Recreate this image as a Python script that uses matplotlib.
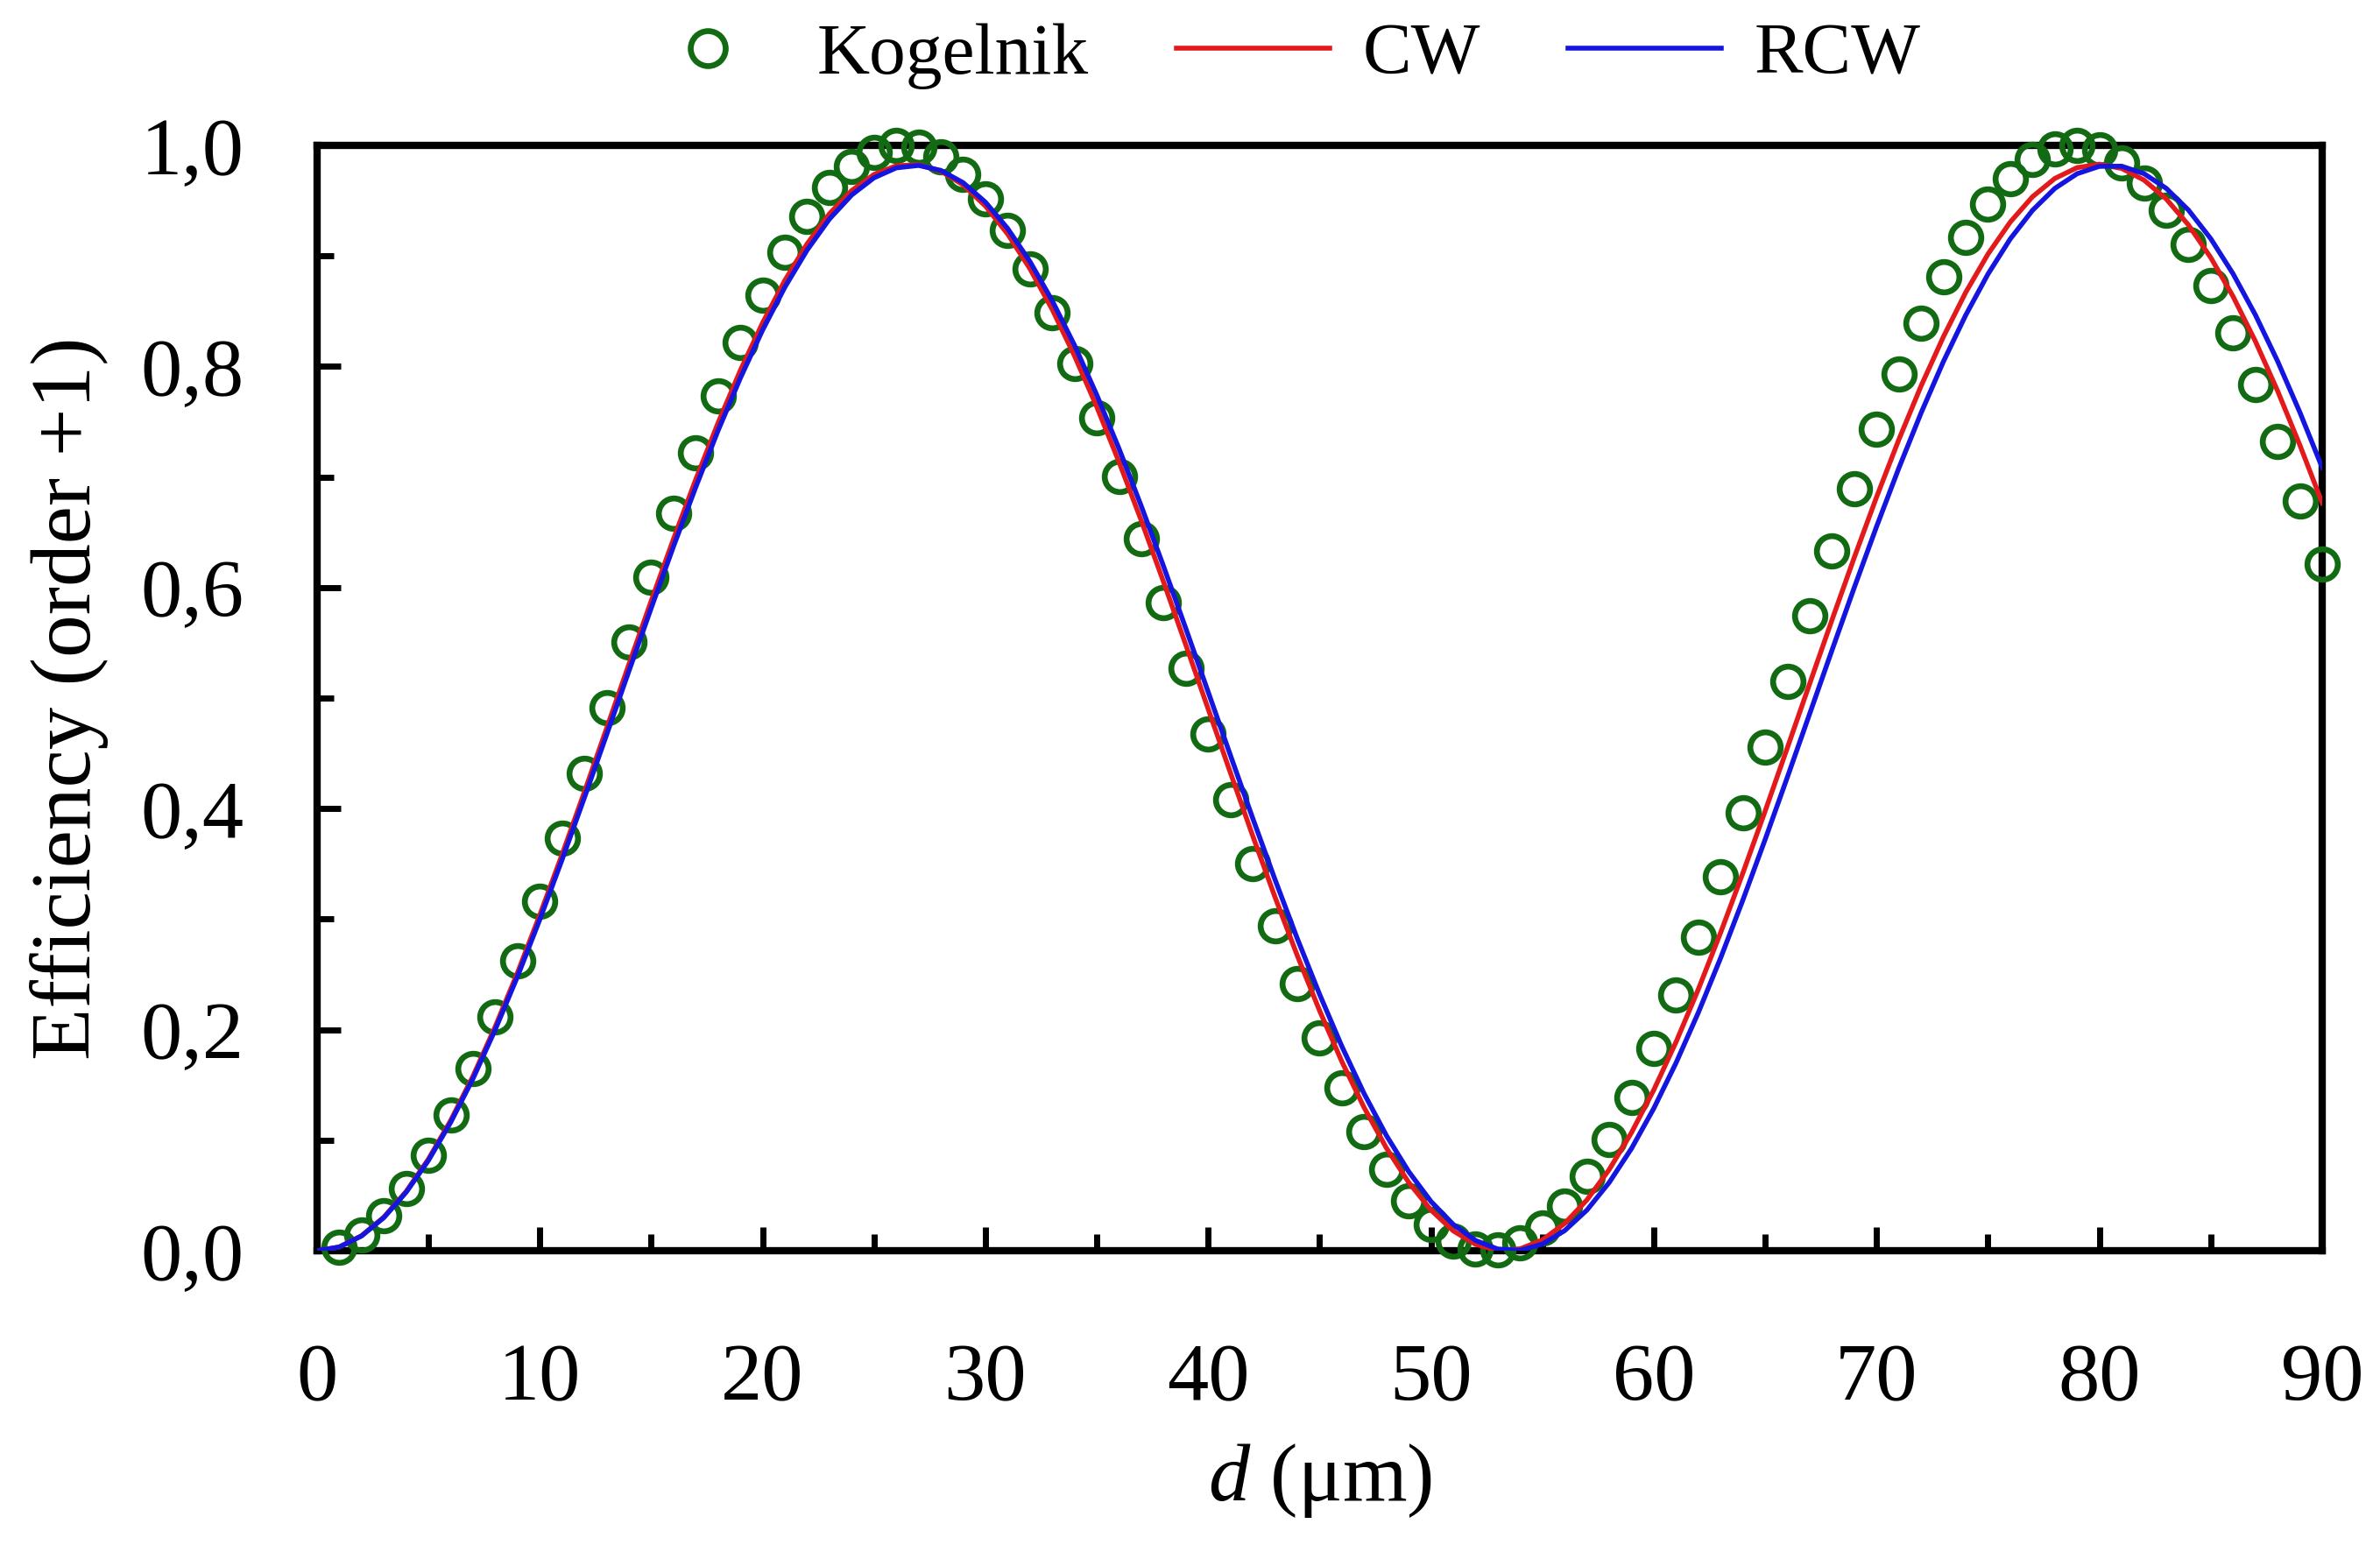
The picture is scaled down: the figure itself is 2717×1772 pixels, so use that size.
import numpy as np
import matplotlib
matplotlib.use("Agg")
import matplotlib.pyplot as plt

plt.rcParams['font.family'] = ['Liberation Serif', 'DejaVu Serif']
plt.rcParams['mathtext.fontset'] = 'custom'
plt.rcParams['mathtext.it'] = 'Liberation Serif:italic'
plt.rcParams['mathtext.rm'] = 'Liberation Serif'

# Kogelnik points, one every micron from 1 to 90
d_kog = np.arange(1, 91)
eff_kog = [
    0.0036, 0.0142, 0.0318, 0.0560, 0.0866, 0.1231, 0.1650, 0.2115, 0.2622, 0.3163,
    0.3730, 0.4315, 0.4910, 0.5507, 0.6096, 0.6670, 0.7219, 0.7738, 0.8217, 0.8649,
    0.9031, 0.9355, 0.9617, 0.9813, 0.9940, 0.9997, 0.9983, 0.9897, 0.9742, 0.9520,
    0.9233, 0.8886, 0.8484, 0.8030, 0.7534, 0.7003, 0.6443, 0.5862, 0.5269, 0.4672,
    0.4080, 0.3500, 0.2943, 0.2415, 0.1924, 0.1476, 0.1079, 0.0737, 0.0456, 0.0239,
    0.0091, 0.0013, 0.0006, 0.0070, 0.0204, 0.0407, 0.0675, 0.1005, 0.1391, 0.1827,
    0.2313, 0.2835, 0.3387, 0.3963, 0.4553, 0.5149, 0.5744, 0.6328, 0.6893, 0.7431,
    0.7934, 0.8394, 0.8810, 0.9168, 0.9467, 0.9703, 0.9872, 0.9971, 1.0000, 0.9957,
    0.9844, 0.9661, 0.9413, 0.9101, 0.8730, 0.8307, 0.7836, 0.7326, 0.6782, 0.6213,
]

# CW and RCW curves, read every micron from 0 to 90
d_line = np.arange(0, 91)
eff_cw = [
    0.0000, 0.0034, 0.0136, 0.0304, 0.0536, 0.0829, 0.1179, 0.1579, 0.2028, 0.2516,
    0.3038, 0.3585, 0.4150, 0.4727, 0.5306, 0.5879, 0.6439, 0.6978, 0.7489, 0.7964,
    0.8395, 0.8779, 0.9110, 0.9382, 0.9592, 0.9737, 0.9816, 0.9826, 0.9768, 0.9643,
    0.9452, 0.9198, 0.8884, 0.8516, 0.8096, 0.7635, 0.7135, 0.6604, 0.6049, 0.5479,
    0.4901, 0.4323, 0.3753, 0.3199, 0.2670, 0.2172, 0.1711, 0.1295, 0.0929, 0.0618,
    0.0368, 0.0180, 0.0058, 0.0003, 0.0017, 0.0098, 0.0247, 0.0460, 0.0735, 0.1069,
    0.1455, 0.1889, 0.2366, 0.2878, 0.3418, 0.3979, 0.4553, 0.5132, 0.5708, 0.6273,
    0.6819, 0.7339, 0.7825, 0.8269, 0.8670, 0.9017, 0.9307, 0.9536, 0.9701, 0.9799,
    0.9830, 0.9792, 0.9687, 0.9516, 0.9280, 0.8985, 0.8634, 0.8229, 0.7779, 0.7288,
    0.6766,
]
eff_rcw = [
    0.0000, 0.0034, 0.0134, 0.0300, 0.0529, 0.0817, 0.1162, 0.1557, 0.2001, 0.2482,
    0.2997, 0.3539, 0.4099, 0.4670, 0.5245, 0.5815, 0.6372, 0.6909, 0.7420, 0.7895,
    0.8330, 0.8718, 0.9054, 0.9334, 0.9552, 0.9707, 0.9797, 0.9819, 0.9774, 0.9663,
    0.9487, 0.9248, 0.8949, 0.8595, 0.8192, 0.7742, 0.7255, 0.6735, 0.6190, 0.5627,
    0.5055, 0.4481, 0.3912, 0.3358, 0.2824, 0.2320, 0.1849, 0.1421, 0.1042, 0.0716,
    0.0446, 0.0238, 0.0093, 0.0015, 0.0004, 0.0060, 0.0182, 0.0368, 0.0618, 0.0925,
    0.1288, 0.1700, 0.2155, 0.2649, 0.3174, 0.3722, 0.4287, 0.4860, 0.5434, 0.6001,
    0.6552, 0.7081, 0.7581, 0.8045, 0.8464, 0.8836, 0.9154, 0.9413, 0.9611, 0.9744,
    0.9811, 0.9812, 0.9745, 0.9612, 0.9415, 0.9156, 0.8839, 0.8468, 0.8048, 0.7585,
    0.7086,
]

x_ticks = [0, 10, 20, 30, 40, 50, 60, 70, 80, 90]
y_ticks = [0.0, 0.2, 0.4, 0.6, 0.8, 1.0]
y_tick_labels = ['0,0', '0,2', '0,4', '0,6', '0,8', '1,0']

fig = plt.figure(figsize=(27.17, 17.72), dpi=100)
ax = fig.add_axes([0.1332, 0.1941, 0.8425, 0.7122])

ax.plot(d_kog, eff_kog, linestyle='none', marker='o', markersize=25,
        markerfacecolor='none', markeredgecolor='#126b12', markeredgewidth=4.8,
        clip_on=False, label='Kogelnik', zorder=3)
ax.plot(d_line, eff_cw, color='#e31a1c', lw=4, label='CW', zorder=4)
ax.plot(d_line, eff_rcw, color='#1515e0', lw=4, label='RCW', zorder=5)

ax.set_xlim(0, 90)
ax.set_ylim(0, 1)
ax.set_xticks(x_ticks)
ax.set_xticks(np.arange(5, 90, 10), minor=True)
ax.set_yticks(y_ticks)
ax.set_yticklabels(y_tick_labels)
ax.set_yticks(np.arange(0.1, 1.0, 0.2), minor=True)

ax.tick_params(which='both', direction='in', top=False, right=False, width=5)
ax.tick_params(which='major', length=19.5, labelsize=68)
ax.tick_params(which='minor', length=13.5)
ax.tick_params(axis='x', which='major', pad=76)
ax.tick_params(axis='y', which='major', pad=60)
for s in ax.spines.values():
    s.set_linewidth(6)

ax.set_xlabel(r'$d$ (μm)', fontsize=68, labelpad=20)
ax.set_ylabel('Efficiency (order +1)', fontsize=70, labelpad=26)

ax.legend(loc='center', bbox_to_anchor=(0.536, 0.964), bbox_transform=fig.transFigure,
          ncol=3, frameon=False, fontsize=60, handlelength=2.1, handletextpad=0.45,
          columnspacing=1.2, borderpad=0, markerscale=1.15)

fig.savefig('out.png', dpi=100)
